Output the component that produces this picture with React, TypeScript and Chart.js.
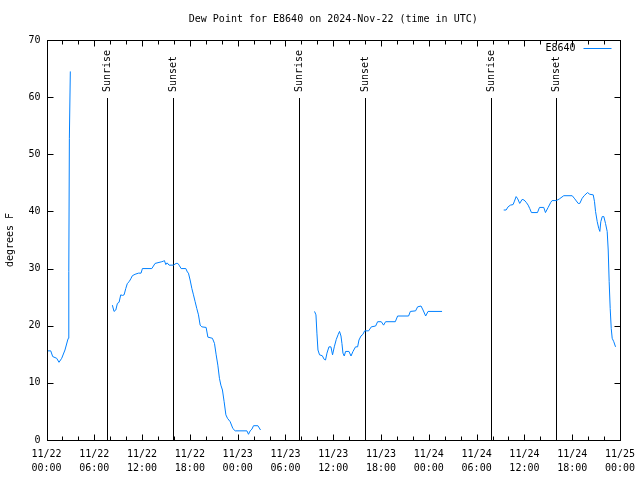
import React, { useEffect, useRef } from 'react';
import { Chart, registerables } from 'chart.js';

Chart.register(...registerables);

const FONT_FAMILY = "'DejaVu Sans Mono', monospace";
const TITLE = 'Dew Point for E8640 on 2024-Nov-22 (time in UTC)';
const SERIES_LABEL = 'E8640';
const Y_TITLE = 'degrees F';
const LINE_COLOR = 'rgb(0,128,255)';

// x axis: hours since 11/22 00:00 UTC
const X_MIN = 0;
const X_MAX = 72;
const X_MAJOR_STEP = 6;
const X_MINOR_STEP = 2;
const X_TICK_DATES = ['11/22', '11/22', '11/22', '11/22', '11/23', '11/23', '11/23', '11/23', '11/24', '11/24', '11/24', '11/24', '11/25'];
const X_TICK_TIMES = ['00:00', '06:00', '12:00', '18:00', '00:00', '06:00', '12:00', '18:00', '00:00', '06:00', '12:00', '18:00', '00:00'];

const Y_MIN = 0;
const Y_MAX = 70;
const Y_STEP = 10;

// Sun events (hours since 11/22 00:00 UTC)
const SUNRISE_HOURS = [7.62, 31.72, 55.75];
const SUNSET_HOURS = [15.88, 39.98, 64.0];
const SUN_LINE_TOP = 60;

// Segment 1
const SEG1_HOURS = [0.19, 0.53, 0.78, 1.28, 1.57, 1.91, 2.32, 2.66, 2.74, 2.8, 2.87, 2.99];
const SEG1_VALUES = [15.6, 15.6, 14.6, 14.3, 13.6, 14.3, 15.75, 17.5, 17.8, 29.5, 52.8, 64.5];

// Segment 2
const SEG2_HOURS = [8.27, 8.48, 8.7, 8.9, 9.11, 9.32, 9.53, 9.74, 9.95, 10.15, 10.37, 10.58, 10.78, 11.12, 11.54, 11.87, 12.04, 13.22, 13.63, 14.48, 14.68, 14.8, 14.98, 15.14, 15.39, 15.93, 16.27, 16.49, 16.65, 16.9, 17.49, 17.69, 17.82, 18.03, 18.25, 18.45, 18.66, 18.87, 19.08, 19.29, 19.5, 20.04, 20.26, 20.83, 21.09, 21.3, 21.51, 21.71, 21.89, 22.09, 22.3, 22.52, 22.72, 23.06, 23.4, 23.69, 25.16, 25.36, 25.57, 25.79, 25.99, 26.54, 26.87];
const SEG2_VALUES = [23.6, 22.5, 22.75, 23.9, 24.1, 25.4, 25.3, 25.4, 26.5, 27.4, 27.7, 28.2, 28.75, 29.0, 29.2, 29.2, 30.0, 30.0, 30.9, 31.2, 31.3, 31.4, 30.7, 31.0, 30.6, 30.6, 30.9, 30.9, 30.6, 30.0, 30.0, 29.4, 29.2, 28.0, 26.5, 25.4, 24.2, 23.0, 21.9, 20.1, 19.8, 19.7, 18.0, 17.8, 16.9, 14.9, 13.1, 10.8, 9.6, 8.75, 6.7, 4.4, 3.8, 3.2, 2.0, 1.6, 1.6, 1.0, 1.6, 1.9, 2.5, 2.5, 1.75];

// Segment 3
const SEG3_HOURS = [33.65, 33.83, 33.95, 34.08, 34.28, 34.62, 34.87, 35.03, 35.21, 35.46, 35.71, 35.91, 36.13, 36.38, 36.63, 36.79, 36.97, 37.09, 37.22, 37.38, 37.55, 37.97, 38.23, 38.48, 38.8, 39.06, 39.23, 39.48, 39.73, 39.94, 40.44, 40.78, 41.32, 41.57, 42.03, 42.32, 42.57, 43.79, 44.08, 45.46, 45.68, 46.34, 46.59, 47.02, 47.27, 47.6, 47.9, 49.66];
const SEG3_VALUES = [22.5, 21.9, 18.7, 15.75, 14.9, 14.75, 14.1, 14.0, 15.2, 16.3, 16.3, 14.9, 16.3, 17.6, 18.5, 19.0, 18.2, 16.9, 15.2, 14.7, 15.5, 15.5, 14.7, 15.5, 16.3, 16.3, 17.5, 18.2, 18.5, 19.1, 19.1, 19.8, 19.95, 20.7, 20.7, 20.1, 20.7, 20.7, 21.7, 21.7, 22.5, 22.6, 23.3, 23.45, 22.75, 21.7, 22.5, 22.5];

// Segment 4
const SEG4_HOURS = [57.4, 57.7, 57.95, 58.24, 58.58, 58.75, 58.96, 59.16, 59.41, 59.71, 59.96, 60.22, 60.47, 60.67, 60.88, 61.64, 61.89, 62.43, 62.64, 62.98, 63.31, 63.48, 64.02, 64.4, 64.94, 66.0, 66.32, 66.75, 66.95, 67.25, 67.5, 67.92, 68.21, 68.64, 68.8, 68.93, 69.14, 69.34, 69.47, 69.59, 69.77, 69.97, 70.18, 70.39, 70.52, 70.64, 70.77, 70.9, 71.02, 71.22, 71.44];
const SEG4_VALUES = [40.25, 40.25, 40.8, 41.1, 41.2, 41.8, 42.6, 42.2, 41.4, 42.1, 42.0, 41.6, 41.1, 40.5, 39.8, 39.8, 40.7, 40.7, 39.8, 40.7, 41.6, 41.9, 41.9, 42.2, 42.75, 42.75, 42.2, 41.4, 41.4, 42.3, 42.75, 43.3, 43.0, 42.9, 41.7, 40.0, 38.2, 37.0, 36.5, 38.2, 39.1, 39.1, 37.9, 36.5, 33.25, 27.7, 23.0, 19.5, 17.8, 17.2, 16.3];

const SEGMENTS: [number[], number[]][] = [
  [SEG1_HOURS, SEG1_VALUES],
  [SEG2_HOURS, SEG2_VALUES],
  [SEG3_HOURS, SEG3_VALUES],
  [SEG4_HOURS, SEG4_VALUES],
];

function buildPoints() {
  const pts: { x: number; y: number | null }[] = [];
  SEGMENTS.forEach(([hs, vs], i) => {
    if (i > 0) {
      const prev = SEGMENTS[i - 1][0];
      pts.push({ x: (prev[prev.length - 1] + hs[0]) / 2, y: null });
    }
    hs.forEach((h, j) => pts.push({ x: h, y: vs[j] }));
  });
  return pts;
}

const font = { family: FONT_FAMILY, size: 10 };

const gnuplotFrame = {
  id: 'gnuplotFrame',
  beforeDatasetsDraw(chart: any) {
    const { ctx, chartArea } = chart;
    const xs = chart.scales.x;
    const ys = chart.scales.y;
    ctx.save();
    ctx.strokeStyle = '#000';
    ctx.lineWidth = 1;
    ctx.fillStyle = '#000';
    ctx.font = `10px ${FONT_FAMILY}`;
    const yTop = Math.round(ys.getPixelForValue(SUN_LINE_TOP)) + 1;
    const drawSun = (h: number, label: string) => {
      const x = Math.round(xs.getPixelForValue(h)) + 0.5;
      ctx.beginPath();
      ctx.moveTo(x, yTop);
      ctx.lineTo(x, chartArea.bottom);
      ctx.stroke();
      ctx.save();
      ctx.translate(x, yTop - 6);
      ctx.rotate(-Math.PI / 2);
      ctx.textAlign = 'left';
      ctx.textBaseline = 'middle';
      ctx.fillText(label, 0, 0);
      ctx.restore();
    };
    SUNRISE_HOURS.forEach((h) => drawSun(h, 'Sunrise'));
    SUNSET_HOURS.forEach((h) => drawSun(h, 'Sunset'));
    ctx.restore();
  },
  afterDraw(chart: any) {
    const { ctx, chartArea } = chart;
    const xs = chart.scales.x;
    const ys = chart.scales.y;
    const L = Math.round(chartArea.left) + 0.5;
    const R = Math.round(chartArea.right) + 0.5;
    const T = Math.round(chartArea.top) + 0.5;
    const B = Math.round(chartArea.bottom) + 0.5;
    ctx.save();
    // title, centred over the plot area
    ctx.fillStyle = '#000';
    ctx.font = `10px ${FONT_FAMILY}`;
    ctx.textAlign = 'center';
    ctx.textBaseline = 'middle';
    ctx.fillText(TITLE, (chartArea.left + chartArea.right) / 2, chartArea.top / 2 - 1);

    ctx.strokeStyle = '#000';
    ctx.lineWidth = 1;
    ctx.strokeRect(L, T, R - L, B - T);
    ctx.beginPath();
    for (let h = X_MIN; h <= X_MAX; h += X_MINOR_STEP) {
      const x = Math.round(xs.getPixelForValue(h)) + 0.5;
      const len = h % X_MAJOR_STEP === 0 ? 6 : 4;
      ctx.moveTo(x, B);
      ctx.lineTo(x, B - len);
      ctx.moveTo(x, T);
      ctx.lineTo(x, T + len);
    }
    for (let v = Y_MIN; v <= Y_MAX; v += Y_STEP) {
      const y = Math.round(ys.getPixelForValue(v)) + 0.5;
      ctx.moveTo(L, y);
      ctx.lineTo(L + 6, y);
      ctx.moveTo(R, y);
      ctx.lineTo(R - 6, y);
    }
    ctx.stroke();
    // legend
    const ds = chart.data.datasets[0];
    ctx.textAlign = 'right';
    ctx.textBaseline = 'middle';
    const ly = T + 8;
    ctx.fillText(ds.label, R - 45, ly);
    ctx.strokeStyle = ds.borderColor;
    ctx.beginPath();
    ctx.moveTo(R - 37, ly);
    ctx.lineTo(R - 9, ly);
    ctx.stroke();
    ctx.restore();
  },
};

export default function App() {
  const ref = useRef<HTMLCanvasElement>(null);
  useEffect(() => {
    const chart = new Chart(ref.current as HTMLCanvasElement, {
      type: 'line',
      data: {
        datasets: [
          {
            label: SERIES_LABEL,
            data: buildPoints() as any,
            borderColor: LINE_COLOR,
            borderWidth: 1,
            pointRadius: 0,
            fill: false,
            tension: 0,
            spanGaps: false,
          },
        ],
      },
      options: {
        animation: false,
        responsive: false,
        devicePixelRatio: 1,
        layout: { padding: { left: 0, right: 20, top: 40, bottom: 0 } },
        plugins: {
          legend: { display: false },
          tooltip: { enabled: false },
          title: { display: false },
        },
        scales: {
          x: {
            type: 'linear',
            min: X_MIN,
            max: X_MAX,
            grid: { display: false, drawTicks: false },
            border: { display: false },
            afterFit: (s: any) => {
              s.height = 40;
              s.paddingLeft = 0;
              s.paddingRight = 0;
            },
            ticks: {
              stepSize: X_MAJOR_STEP,
              autoSkip: false,
              maxRotation: 0,
              color: '#000',
              padding: 7,
              font: { family: FONT_FAMILY, size: 10, lineHeight: 1.4 },
              callback: (v: any) => {
                const i = Math.round(Number(v) / X_MAJOR_STEP);
                return [X_TICK_DATES[i], X_TICK_TIMES[i]];
              },
            },
          },
          y: {
            min: Y_MIN,
            max: Y_MAX,
            grid: { display: false, drawTicks: false },
            border: { display: false },
            afterFit: (s: any) => {
              s.width = 46.5;
              s.paddingTop = 0;
              s.paddingBottom = 0;
            },
            title: {
              display: true,
              text: Y_TITLE,
              color: '#000',
              font,
              padding: { top: 4, bottom: 0 },
            },
            ticks: {
              stepSize: Y_STEP,
              color: '#000',
              padding: 6,
              font,
            },
          },
        },
      },
      plugins: [gnuplotFrame],
    });
    return () => chart.destroy();
  }, []);
  return (
    <div style={{ position: 'absolute', left: 0, top: 0, width: 640, height: 480, background: '#fff' }}>
      <canvas ref={ref} width={640} height={480} />
    </div>
  );
}
